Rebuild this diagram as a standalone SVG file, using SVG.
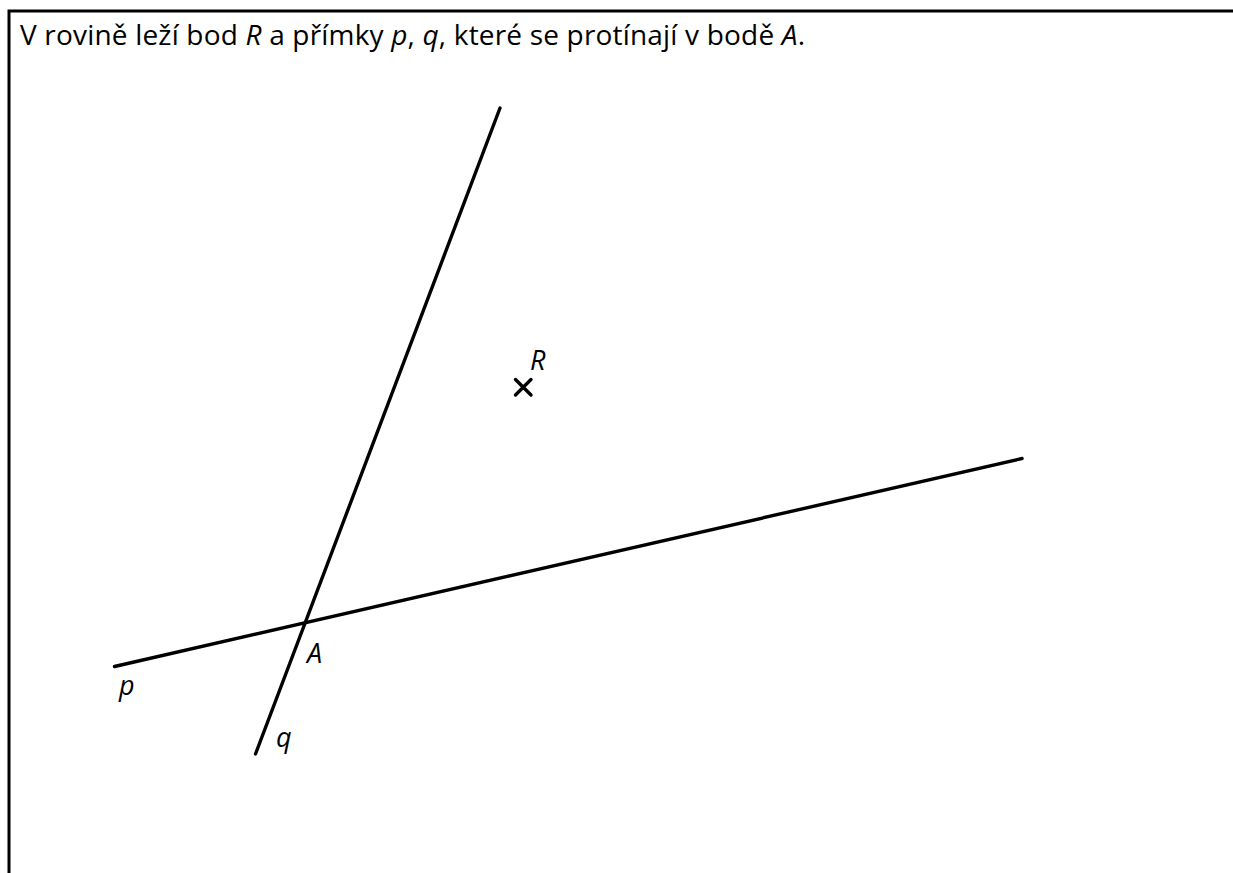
<svg xmlns="http://www.w3.org/2000/svg" width="1233" height="873" viewBox="0 0 1233 873">
<style>
.frame{stroke:#000;stroke-width:3;fill:none}
.ln{stroke:#000;stroke-width:3.4;stroke-linecap:round;fill:none}
.title{font-family:"Open Sans","Liberation Sans",sans-serif;font-size:28px;fill:#000}
.lbl{font-family:"Open Sans","Liberation Sans",sans-serif;font-size:27px;font-style:italic;fill:#000}
</style>
<rect width="1233" height="873" fill="#fff"/>
<g id="frame">
<path class="frame" d="M9,873 V11 H1233"/>
</g>
<g id="title">
<text class="title" x="20" y="45" textLength="785" lengthAdjust="spacing">V rovině leží bod <tspan font-style="italic">R</tspan> a přímky <tspan font-style="italic">p</tspan>, <tspan font-style="italic">q</tspan>, které se protínají v bodě <tspan font-style="italic">A</tspan>.</text>
</g>
<g id="connectors">
<line id="line-q" class="ln" x1="500" y1="108" x2="255.5" y2="754"/>
<line id="line-p" class="ln" x1="114.5" y1="666.5" x2="1022" y2="458.5"/>
</g>
<g id="point-R">
<path class="ln" d="M515.5,379.5 L531,395 M531,379.5 L515.5,395" stroke-width="3"/>
<text class="lbl" x="530" y="370">R</text>
</g>
<g id="point-A">
<text class="lbl" x="307" y="663">A</text>
</g>
<g id="label-p">
<text class="lbl" x="119" y="695">p</text>
</g>
<g id="label-q">
<text class="lbl" x="276" y="747">q</text>
</g>
</svg>
